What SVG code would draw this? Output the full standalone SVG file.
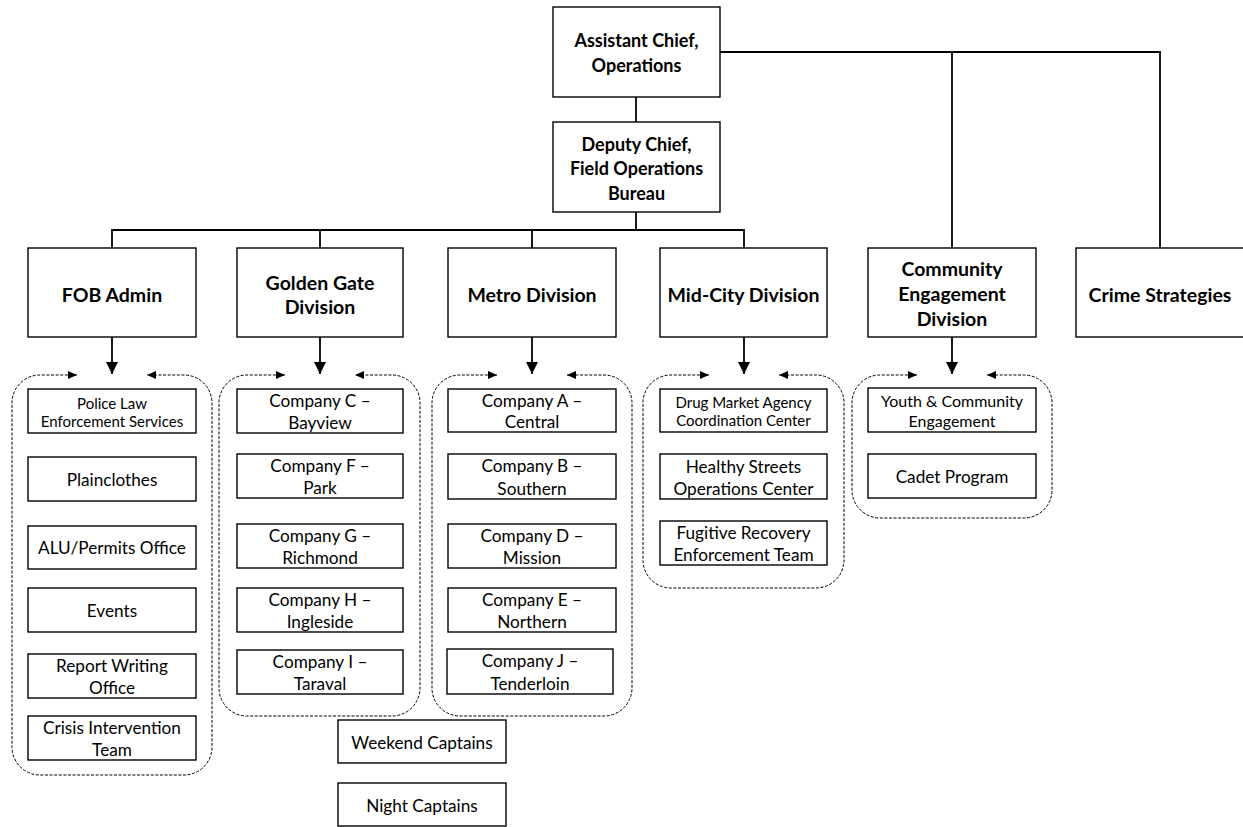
<svg xmlns="http://www.w3.org/2000/svg" width="1243" height="827" viewBox="0 0 1243 827">
  <defs>
    <marker id="solidHead" viewBox="0 0 12 12" refX="12" refY="6" markerWidth="12" markerHeight="12" markerUnits="userSpaceOnUse" orient="auto">
      <path d="M0,0 L12,6 L0,12 Z" fill="#000"/>
    </marker>
    <marker id="dashHead" viewBox="0 0 9 8" refX="9" refY="4" markerWidth="9" markerHeight="8" markerUnits="userSpaceOnUse" orient="auto-start-reverse">
      <path d="M0,0 L9,4 L0,8 Z" fill="#000"/>
    </marker>
  </defs>
  <style>
    rect.box { fill: #fff; stroke: #000; stroke-width: 1.4; }
    .link { stroke: #000; stroke-width: 1.8; fill: none; }
    .down { stroke: #000; stroke-width: 1.8; fill: none; marker-end: url(#solidHead); }
    .group { stroke: #000; stroke-width: 1; fill: none; stroke-dasharray: 3 1.6; marker-start: url(#dashHead); marker-end: url(#dashHead); }
    text { font-family: Lato, "Liberation Sans", sans-serif; fill: #000; text-anchor: middle; dominant-baseline: central; }
    .hd { font-weight: bold; font-size: 19.5px; }
    .top { font-weight: bold; font-size: 18px; }
    .it { font-size: 17.2px; }
    .sm { font-size: 15px; }
    .md { font-size: 16px; }
  </style>

  <rect width="1243" height="827" fill="#fff"/>

  <!-- connectors -->
  <g id="connectors">
    <line class="link" x1="636" y1="97" x2="636" y2="122"/>
    <polyline class="link" points="720,52 1160,52 1160,248"/>
    <line class="link" x1="952" y1="52" x2="952" y2="248"/>
    <line class="link" x1="636" y1="212" x2="636" y2="230"/>
    <polyline class="link" points="112,248 112,230 744,230 744,248"/>
    <line class="link" x1="320" y1="230" x2="320" y2="248"/>
    <line class="link" x1="532" y1="230" x2="532" y2="248"/>
    <line class="down" x1="112" y1="337" x2="112" y2="374"/>
    <line class="down" x1="320" y1="337" x2="320" y2="374"/>
    <line class="down" x1="532" y1="337" x2="532" y2="374"/>
    <line class="down" x1="744" y1="337" x2="744" y2="374"/>
    <line class="down" x1="952" y1="337" x2="952" y2="374"/>
    <!-- dashed group outlines, each opening into two inward arrows at the top -->
    <path class="group" d="M77,375 H40 A28,28 0 0 0 12,403 V747 A28,28 0 0 0 40,775 H184 A28,28 0 0 0 212,747 V403 A28,28 0 0 0 184,375 H147"/>
    <path class="group" d="M285,375 H247 A28,28 0 0 0 219,403 V688 A28,28 0 0 0 247,716 H392 A28,28 0 0 0 420,688 V403 A28,28 0 0 0 392,375 H355"/>
    <path class="group" d="M497,375 H460 A28,28 0 0 0 432,403 V688 A28,28 0 0 0 460,716 H604 A28,28 0 0 0 632,688 V403 A28,28 0 0 0 604,375 H567"/>
    <path class="group" d="M709,375 H671 A28,28 0 0 0 643,403 V560 A28,28 0 0 0 671,588 H816 A28,28 0 0 0 844,560 V403 A28,28 0 0 0 816,375 H779"/>
    <path class="group" d="M917,375 H880 A28,28 0 0 0 852,403 V490 A28,28 0 0 0 880,518 H1024 A28,28 0 0 0 1052,490 V403 A28,28 0 0 0 1024,375 H987"/>
  </g>

  <!-- command -->
  <g id="assistant-chief">
    <rect class="box" x="553" y="7" width="167" height="90"/>
    <text class="top" x="636.5" y="40">Assistant Chief,</text>
    <text class="top" x="636.5" y="65">Operations</text>
  </g>
  <g id="deputy-chief">
    <rect class="box" x="553" y="122" width="167" height="90"/>
    <text class="top" x="636.5" y="144">Deputy Chief,</text>
    <text class="top" x="636.5" y="168">Field Operations</text>
    <text class="top" x="636.5" y="193">Bureau</text>
  </g>

  <!-- divisions -->
  <g id="fob-admin">
    <rect class="box" x="28" y="248" width="168" height="89"/>
    <text class="hd" x="112" y="294">FOB Admin</text>
  </g>
  <g id="golden-gate">
    <rect class="box" x="237" y="248" width="166" height="89"/>
    <text class="hd" x="320" y="282">Golden Gate</text>
    <text class="hd" x="320" y="306">Division</text>
  </g>
  <g id="metro">
    <rect class="box" x="448" y="248" width="168" height="89"/>
    <text class="hd" x="532" y="294">Metro Division</text>
  </g>
  <g id="mid-city">
    <rect class="box" x="660" y="248" width="167" height="89"/>
    <text class="hd" x="743.5" y="294">Mid-City Division</text>
  </g>
  <g id="community-engagement">
    <rect class="box" x="868" y="248" width="168" height="89"/>
    <text class="hd" x="952" y="268">Community</text>
    <text class="hd" x="952" y="293">Engagement</text>
    <text class="hd" x="952" y="318">Division</text>
  </g>
  <g id="crime-strategies">
    <rect class="box" x="1076" y="248" width="168" height="89"/>
    <text class="hd" x="1160" y="294">Crime Strategies</text>
  </g>

  <!-- FOB Admin units -->
  <g id="plesu">
    <rect class="box" x="28" y="389" width="168" height="44"/>
    <text class="sm" x="112" y="403">Police Law</text>
    <text class="sm" x="112" y="421">Enforcement Services</text>
  </g>
  <g id="plainclothes">
    <rect class="box" x="28" y="457" width="168" height="44"/>
    <text class="it" x="112" y="479">Plainclothes</text>
  </g>
  <g id="alu-permits">
    <rect class="box" x="28" y="526" width="168" height="43"/>
    <text class="it" x="112" y="547">ALU/Permits Office</text>
  </g>
  <g id="events">
    <rect class="box" x="28" y="588" width="168" height="44"/>
    <text class="it" x="112" y="610">Events</text>
  </g>
  <g id="report-writing">
    <rect class="box" x="28" y="654" width="168" height="44"/>
    <text class="it" x="112" y="665">Report Writing</text>
    <text class="it" x="112" y="687">Office</text>
  </g>
  <g id="crisis-intervention">
    <rect class="box" x="28" y="716" width="168" height="44"/>
    <text class="it" x="112" y="727">Crisis Intervention</text>
    <text class="it" x="112" y="749">Team</text>
  </g>

  <!-- Golden Gate companies -->
  <g id="company-c">
    <rect class="box" x="237" y="389" width="166" height="44"/>
    <text class="it" x="320" y="400">Company C –</text>
    <text class="it" x="320" y="422">Bayview</text>
  </g>
  <g id="company-f">
    <rect class="box" x="237" y="454" width="166" height="44"/>
    <text class="it" x="320" y="465">Company F –</text>
    <text class="it" x="320" y="487">Park</text>
  </g>
  <g id="company-g">
    <rect class="box" x="237" y="524" width="166" height="44"/>
    <text class="it" x="320" y="535">Company G –</text>
    <text class="it" x="320" y="557">Richmond</text>
  </g>
  <g id="company-h">
    <rect class="box" x="237" y="588" width="166" height="44"/>
    <text class="it" x="320" y="599">Company H –</text>
    <text class="it" x="320" y="621">Ingleside</text>
  </g>
  <g id="company-i">
    <rect class="box" x="237" y="650" width="166" height="44"/>
    <text class="it" x="320" y="661">Company I –</text>
    <text class="it" x="320" y="683">Taraval</text>
  </g>
  <g id="weekend-captains">
    <rect class="box" x="338" y="720" width="168" height="43"/>
    <text class="it" x="422" y="742">Weekend Captains</text>
  </g>
  <g id="night-captains">
    <rect class="box" x="338" y="783" width="168" height="43"/>
    <text class="it" x="422" y="805">Night Captains</text>
  </g>

  <!-- Metro companies -->
  <g id="company-a">
    <rect class="box" x="448" y="389" width="168" height="43"/>
    <text class="it" x="532" y="400">Company A –</text>
    <text class="it" x="532" y="421">Central</text>
  </g>
  <g id="company-b">
    <rect class="box" x="448" y="454" width="168" height="45"/>
    <text class="it" x="532" y="465">Company B –</text>
    <text class="it" x="532" y="488">Southern</text>
  </g>
  <g id="company-d">
    <rect class="box" x="448" y="524" width="168" height="44"/>
    <text class="it" x="532" y="535">Company D –</text>
    <text class="it" x="532" y="557">Mission</text>
  </g>
  <g id="company-e">
    <rect class="box" x="448" y="588" width="168" height="44"/>
    <text class="it" x="532" y="599">Company E –</text>
    <text class="it" x="532" y="621">Northern</text>
  </g>
  <g id="company-j">
    <rect class="box" x="447" y="649" width="166" height="45"/>
    <text class="it" x="530" y="660">Company J –</text>
    <text class="it" x="530" y="683">Tenderloin</text>
  </g>

  <!-- Mid-City units -->
  <g id="drug-market">
    <rect class="box" x="660" y="389" width="167" height="43"/>
    <text class="sm" x="743.5" y="402">Drug Market Agency</text>
    <text class="sm" x="743.5" y="420">Coordination Center</text>
  </g>
  <g id="healthy-streets">
    <rect class="box" x="660" y="454" width="167" height="45"/>
    <text class="it" x="743.5" y="466">Healthy Streets</text>
    <text class="it" x="743.5" y="488">Operations Center</text>
  </g>
  <g id="fugitive-recovery">
    <rect class="box" x="660" y="521" width="167" height="44"/>
    <text class="it" x="743.5" y="532">Fugitive Recovery</text>
    <text class="it" x="743.5" y="554">Enforcement Team</text>
  </g>

  <!-- Community Engagement units -->
  <g id="youth-community">
    <rect class="box" x="868" y="388" width="168" height="44"/>
    <text class="md" x="952" y="400">Youth &amp; Community</text>
    <text class="md" x="952" y="420">Engagement</text>
  </g>
  <g id="cadet-program">
    <rect class="box" x="868" y="454" width="168" height="44"/>
    <text class="it" x="952" y="476">Cadet Program</text>
  </g>
</svg>
